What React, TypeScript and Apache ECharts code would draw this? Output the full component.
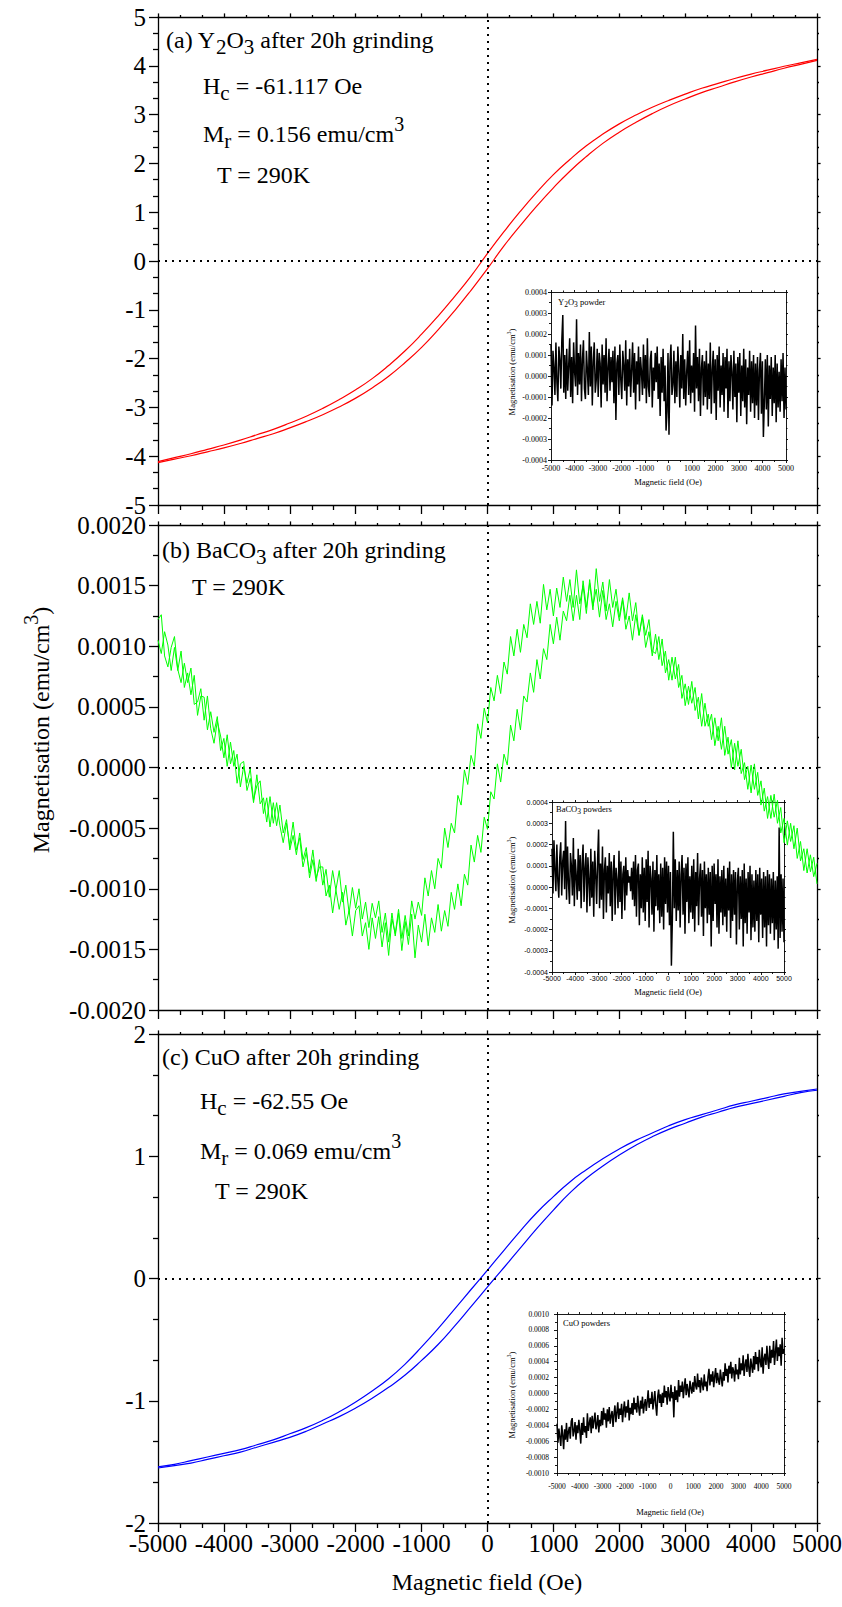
import React, { useEffect, useRef } from 'react';
import * as echarts from 'echarts';

// ---------- DATA ----------
// Hysteresis loops (emu/cm3), applied field every 250 Oe
const fieldHyst = [-5000, -4750, -4500, -4250, -4000, -3750, -3500, -3250, -3000, -2750, -2500, -2250, -2000, -1750, -1500, -1250, -1000, -750, -500, -250, 0, 250, 500, 750, 1000, 1250, 1500, 1750, 2000, 2250, 2500, 2750, 3000, 3250, 3500, 3750, 4000, 4250, 4500, 4750, 5000];

const y2o3Upper = [-4.11, -4.03, -3.95, -3.86, -3.77, -3.67, -3.56, -3.45, -3.32, -3.18, -3.02, -2.84, -2.64, -2.41, -2.14, -1.84, -1.50, -1.13, -0.73, -0.31, 0.156, 0.60, 1.02, 1.41, 1.77, 2.08, 2.36, 2.60, 2.81, 2.99, 3.15, 3.29, 3.42, 3.54, 3.64, 3.74, 3.83, 3.91, 3.99, 4.06, 4.13];
const y2o3Lower = [-4.13, -4.06, -3.99, -3.91, -3.83, -3.74, -3.64, -3.54, -3.42, -3.29, -3.15, -2.99, -2.81, -2.60, -2.36, -2.08, -1.77, -1.41, -1.02, -0.60, -0.156, 0.31, 0.73, 1.13, 1.50, 1.84, 2.14, 2.41, 2.64, 2.84, 3.02, 3.18, 3.32, 3.45, 3.56, 3.67, 3.77, 3.86, 3.95, 4.03, 4.11];

const cuoUpper = [-1.54, -1.52, -1.49, -1.46, -1.43, -1.40, -1.36, -1.32, -1.27, -1.22, -1.16, -1.09, -1.01, -0.92, -0.82, -0.70, -0.56, -0.41, -0.25, -0.09, 0.069, 0.23, 0.39, 0.54, 0.67, 0.79, 0.89, 0.98, 1.06, 1.13, 1.19, 1.25, 1.30, 1.34, 1.38, 1.42, 1.45, 1.48, 1.51, 1.53, 1.55];
const cuoLower = [-1.55, -1.53, -1.51, -1.48, -1.45, -1.42, -1.38, -1.34, -1.30, -1.25, -1.19, -1.13, -1.06, -0.98, -0.89, -0.79, -0.67, -0.54, -0.39, -0.23, -0.069, 0.09, 0.25, 0.41, 0.56, 0.70, 0.82, 0.92, 1.01, 1.09, 1.16, 1.22, 1.27, 1.32, 1.36, 1.40, 1.43, 1.46, 1.49, 1.52, 1.54];

// BaCO3 loop, two branches, field every 50 Oe from -5000 to 5000; values in 1e-5 emu/cm3
const bacoBranchA = [
  122, 126, 92, 83, 99, 108, 81, 70, 86, 70, 82, 52, 54, 65, 39, 59, 32, 20, 38, 26,
  8, 27, 3, 14, -13, 3, 5, -19, -9, -29, -6, -30, -25, -45, -24, -46, -29, -48, -62, -46,
  -65, -45, -68, -58, -82, -70, -87, -68, -91, -82,
  -82, -106, -97, -120, -101, -117, -103, -130, -118, -139, -118, -114, -139, -128, -150, -124, -141, -123, -148, -128,
  -155, -125, -137, -117, -141, -122, -139, -110, -125, -111, -122, -91, -106, -85, -100, -75, -83, -50, -66, -46,
  -54, -23, -31, -2, -14, 10, 1, 36, 24, 49, 37, 66, 55, 76, 61, 87, 77, 108, 92, 114,
  95, 118, 107, 135, 118, 137, 119, 151, 130, 147, 125, 148, 132, 157, 137, 155, 132, 163, 135, 150,
  127, 155, 133, 147, 124, 146, 122, 135, 116, 137, 121, 138, 114, 125, 105, 126, 109, 124, 99, 112,
  92,
  110, 89, 106, 78, 89, 72, 91, 66, 76, 51, 67, 53, 66, 40, 61, 34, 44, 23, 41, 22,
  41, 10, 25, 0, 20, 1, 15, -10, 1, -21, 3, -23, -11, -36, -24, -42, -22, -46, -33, -62,
  -44, -61, -48, -75, -61, -85, -67, -86, -74, -96,
];
const bacoBranchB = [
  105, 94, 112, 101, 80, 99, 80, 96, 66, 78, 60, 76, 43, 59, 58, 31, 46, 29, 42, 14,
  24, 1, 21, 1, 11, -16, 1, -13, -1, -27, -15, -11, -38, -25, -49, -29, -48, -31, -54, -43,
  -68, -56, -72, -54, -76, -66, -91, -76, -94, -76,
  -97, -84, -107, -85, -101, -85, -111, -97, -120, -99, -116, -100, -125, -111, -132, -112, -124, -110, -136, -120,
  -144, -120, -139, -120, -151, -127, -146, -121, -157, -130, -144, -121, -147, -124, -136, -113, -135, -118, -131, -103,
  -117, -96, -114, -88, -97, -64, -78, -56, -70, -41, -51, -20, -26, 3, -12, 11, 2, 35, 22, 48,
  31, 59, 54, 78, 62, 89, 73, 98, 89, 118, 102, 124, 105, 129, 121, 142, 121, 142, 122, 154,
  132, 152, 130, 164, 137, 153, 129, 155, 132, 147, 124, 140, 122, 144, 121, 136, 109, 126, 109, 122,
  96,
  94, 108, 84, 96, 72, 91, 73, 85, 57, 69, 52, 71, 47, 58, 34, 53, 34, 44, 18, 34,
  15, 34, 11, 23, -2, 22, -5, 4, -18, 2, -18, -4, -31, -17, -42, -23, -41, -27, -54, -42,
  -64, -46, -67, -50, -77, -67, -87, -72, -90, -79,
];

// Insets (raw powders), evenly spaced sweep -5000..5000 Oe; values in 1e-5 emu/cm3
const insetY2O3 = [
  15, -14, 12, 4, -9, 16, -3, -12, 14, 8, -6, 17, 29, -8, 10, -11,
  13, -7, 5, 18, -10, 9, -13, 16, 2, -5, 27, -9, 11, -4, 15, -12,
  8, 17, -6, -11, 12, 3, -9, 21, -5, 14, -14, 7, 16, -8, -2, 13,
  -10, 11, 6, -15, 15, -4, 10, -8, 18, -12, 4, 13, -7, 9, -3, 12,
  -13, 14, -21, 6, 10, -9, 15, -2, -11, 12, 5, -7, 17, -14, 8, -5,
  13, -10, 3, 16, -8, 11, -16, 7, -4, 14, -12, 9, 2, -9, 15, -6,
  10, -13, 18, -5, -10, 8, 12, -15, 4, -7, 11, -3, 14, -11, 6, -19,
  9, -8, 13, -12, 5, -26, -17, 11, -28, 6, 15, -9, -4, 12, -13, 7,
  -10, 14, 3, -15, 10, -6, 20, -11, 8, -14, 2, 12, -9, 17, -13, 5,
  -8, 11, -17, 24, -6, 9, -12, 13, -19, 4, 10, -14, 7, -10, 12, -16,
  6, -11, 16, -18, 3, 12, -13, 8, -21, 10, -7, 14, -15, 5, -9, 11,
  -17, 9, -6, 13, -20, 7, -12, 10, 2, -16, 12, -10, 6, -22, 9, -8,
  11, -19, 5, -12, 13, -15, 8, -23, 4, -9, 12, -17, 7, -13, 10, -20,
  6, -14, 9, -21, 3, 11, -18, 7, -29, -12, 8, -16, 10, -24, 5, -11,
  9, -19, 4, -13, 10, -22, 6, -15, 2, -17, 8, -12, 11, -20, 4, -16,
];
const insetBaCO3 = [
  18, -3, 22, 8, -2, 20, 3, -5, 14, 21, -4, 12, 17, -1, 31, -6,
  19, 2, -8, 16, 10, -4, 23, -9, 13, 5, -6, 18, -2, 15, -10, 11,
  20, -7, 9, 16, -12, 14, 3, -9, 18, -5, 12, -14, 17, 6, -8, 13,
  27, -10, 11, -6, 19, -15, 8, 14, -12, 10, -3, 16, -9, 12, -16, 7,
  15, -13, 9, 3, -10, 17, -7, 12, -15, 6, 10, -11, 14, -4, 8, 2,
  5, -2, 9, -6, 12, -9, 15, -14, 8, 11, -18, 6, -10, 14, -12, 9,
  -16, 13, -7, 17, -19, 10, 4, -13, 12, -21, 8, -9, 15, -11, 6, -17,
  11, -14, 9, -20, 14, -8, 12, -12, 10, -18, 7, -37, -15, 26, -10, 13,
  -16, 8, -11, 12, -19, 6, 15, -13, 9, -22, 11, -7, 14, -17, 5, -12,
  10, -15, 13, -21, 7, -9, 16, -18, 4, 11, -14, 8, -23, 12, -10, 6,
  -17, 9, -13, 7, -28, 10, -16, 11, -8, 6, -19, 13, -22, 5, -12, 8,
  -18, 10, -14, 4, -21, 9, -11, 12, -24, 6, -16, 8, -13, 7, -27, 3,
  9, -20, 5, -15, 8, -28, 11, -17, 4, -22, 7, -12, 10, -25, 6, -19,
  3, -21, 8, -16, 6, -26, 9, -13, 4, -24, 7, -19, 5, -28, 8, -18,
  6, -22, 4, -17, 7, -25, 3, -20, 5, -29, 28, -24, 6, -21, 4, -26,
];
const insetCuO = [
  -38, -62, -44, -55, -66, -40, -52, -70, -45, -58, -37, -61, -48, -42, -57, -35,
  -31, -54, -47, -36, -58, -40, -50, -33, -46, -63, -37, -52, -30, -49, -41, -56,
  -25, -47, -38, -30, -50, -28, -44, -34, -24, -45, -39, -27, -49, -33, -41, -22,
  -40, -18, -33, -25, -43, -20, -35, -17, -38, -28, -22, -42, -26, -15, -36, -24,
  -11, -32, -19, -27, -13, -36, -21, -10, -30, -16, -24, -8, -34, -18, -26, -12,
  -27, -5, -20, -12, -24, -3, -17, -28, -9, -19, -4, -25, -14, -7, -22, -10,
  4, -18, -6, -13, 2, -20, -9, 3, -15, -28, -4, 5, -12, -1, -17, 1,
  -12, 10, -5, 3, -14, 8, -3, -10, 11, -6, 2, -30, 9, -8, 4, -11,
  17, -4, 10, 2, 15, -6, 8, 19, -2, 12, 4, -5, 16, 7, 0, 14,
  2, 22, 10, 5, 25, 8, 17, 1, 20, 12, 4, 24, 9, 15, 3, 21,
  31, 10, 24, 15, 28, 8, 21, 32, 13, 26, 17, 11, 30, 19, 9, 27,
  16, 38, 22, 31, 14, 35, 25, 40, 19, 33, 28, 15, 37, 24, 30, 18,
  45, 24, 38, 29, 48, 22, 36, 43, 27, 50, 32, 21, 44, 35, 26, 47,
  30, 52, 37, 46, 28, 55, 40, 33, 58, 25, 44, 50, 36, 60, 42, 31,
  60, 38, 55, 45, 66, 36, 52, 68, 41, 58, 47, 62, 35, 70, 50, 56,
];

// ---------- HELPERS ----------
const SERIF = 'Liberation Serif';
const SANS = 'Liberation Sans';
const UNIT = 1e-5;

const sweep = (n: number) => Array.from({ length: n }, (_, i) => -5000 + (10000 * i) / (n - 1));
const pairs = (xs: number[], ys: number[], k = 1) => ys.map((v, i) => [xs[i], v * k]);

const grids = [
  { left: 158, top: 17, width: 659, height: 488 },
  { left: 158, top: 525, width: 659, height: 485 },
  { left: 158, top: 1034, width: 659, height: 489 },
  { left: 551, top: 292, width: 235, height: 168 },
  { left: 552, top: 802, width: 232, height: 170 },
  { left: 557, top: 1314, width: 227, height: 159 },
];

type AxCfg = {
  min: number; max: number; interval: number; minor: number;
  labels: boolean; fmt?: (v: number) => string; font?: string; size?: number; margin?: number;
  tick: number; minorTick: number; lw: number;
};

function axisPair(kind: 'x' | 'y', gi: number, c: AxCfg) {
  const common = {
    type: 'value', gridIndex: gi, min: c.min, max: c.max, interval: c.interval,
    splitLine: { show: false },
    axisLine: { show: true, onZero: false, lineStyle: { color: '#000', width: c.lw } },
  };
  const main = {
    ...common,
    position: kind === 'x' ? 'bottom' : 'left',
    axisTick: { show: true, inside: false, length: c.tick, lineStyle: { color: '#000', width: c.lw } },
    minorTick: { show: true, splitNumber: c.minor, length: c.minorTick, lineStyle: { color: '#000', width: c.lw } },
    axisLabel: {
      show: c.labels, color: '#000', fontFamily: c.font || SERIF, fontSize: c.size || 25,
      margin: c.margin ?? 8, formatter: c.fmt || ((v: number) => String(v)),
      showMinLabel: true, showMaxLabel: true, hideOverlap: false,
    },
  };
  const opp = {
    ...common,
    position: kind === 'x' ? 'top' : 'right',
    axisTick: { show: true, inside: false, length: Math.max(2, c.tick * 0.4), lineStyle: { color: '#000', width: c.lw } },
    minorTick: { show: true, splitNumber: c.minor, length: Math.max(1.5, c.minorTick * 0.4), lineStyle: { color: '#000', width: c.lw } },
    axisLabel: { show: false },
  };
  return [main, opp];
}

const f4 = (v: number) => v.toFixed(4);

const richBig = {
  n: { fontFamily: SERIF, fontSize: 24, fill: '#000' },
  sub: { fontFamily: SERIF, fontSize: 21, fill: '#000', padding: [14, 0, 0, 0] },
  sup: { fontFamily: SERIF, fontSize: 20, fill: '#000', padding: [0, 0, 20, 0] },
};
const richSmall = {
  s: { fontFamily: SERIF, fontSize: 8.5, fill: '#000' },
  sb: { fontFamily: SERIF, fontSize: 7.5, fill: '#000', padding: [5, 0, 0, 0] },
  sp: { fontFamily: SERIF, fontSize: 6, fill: '#000', padding: [0, 0, 7, 0] },
};

function txt(x: number, y: number, text: string, big: boolean, align = 'left', rot = 0) {
  return {
    type: 'text', x, y, rotation: rot, silent: true, z: 100,
    style: {
      text, fill: '#000', fontFamily: SERIF, fontSize: big ? 24 : 8.5, lineHeight: big ? 32 : 12,
      align, textAlign: align, verticalAlign: 'middle', textVerticalAlign: 'middle',
      rich: big ? richBig : richSmall,
    },
  };
}

function dotted() {
  return {
    silent: true, symbol: ['none', 'none'], label: { show: false }, animation: false,
    lineStyle: { color: '#000', type: [2, 5], width: 2 },
    emphasis: { disabled: true },
    data: [{ yAxis: 0 }, { xAxis: 0 }],
  };
}

function buildOption() {
  const mainTick = 9, mainMinor = 5, lw = 1.3;
  const xAxes: any[] = [];
  const yAxes: any[] = [];
  const yCfgs: AxCfg[] = [
    { min: -5, max: 5, interval: 1, minor: 3, labels: true, tick: mainTick, minorTick: mainMinor, lw, margin: 12 },
    { min: -0.002, max: 0.002, interval: 0.0005, minor: 2, labels: true, fmt: f4, tick: mainTick, minorTick: mainMinor, lw, margin: 12 },
    { min: -2, max: 2, interval: 1, minor: 3, labels: true, tick: mainTick, minorTick: mainMinor, lw, margin: 12 },
  ];
  for (let g = 0; g < 3; g++) {
    xAxes.push(...axisPair('x', g, { min: -5000, max: 5000, interval: 1000, minor: 3, labels: g === 2, tick: mainTick, minorTick: mainMinor, lw, margin: 8 }));
    yAxes.push(...axisPair('y', g, yCfgs[g]));
  }
  const insetY: AxCfg[] = [
    { min: -0.0004, max: 0.0004, interval: 0.0001, minor: 2, labels: true, fmt: f4, size: 8, margin: 4, tick: 3, minorTick: 2, lw: 0.9 },
    { min: -0.0004, max: 0.0004, interval: 0.0001, minor: 2, labels: true, fmt: f4, size: 7, font: SANS, margin: 4, tick: 3, minorTick: 2, lw: 0.9 },
    { min: -0.001, max: 0.001, interval: 0.0002, minor: 2, labels: true, fmt: f4, size: 7.5, margin: 8, tick: 3, minorTick: 2, lw: 0.9 },
  ];
  const insetX: AxCfg[] = [
    { min: -5000, max: 5000, interval: 1000, minor: 2, labels: true, size: 8, margin: 4, tick: 3, minorTick: 2, lw: 0.9 },
    { min: -5000, max: 5000, interval: 1000, minor: 2, labels: true, size: 7, font: SANS, margin: 3, tick: 3, minorTick: 2, lw: 0.9 },
    { min: -5000, max: 5000, interval: 1000, minor: 2, labels: true, size: 7.5, margin: 9, tick: 3, minorTick: 2, lw: 0.9 },
  ];
  for (let k = 0; k < 3; k++) {
    xAxes.push(...axisPair('x', 3 + k, insetX[k]));
    yAxes.push(...axisPair('y', 3 + k, insetY[k]));
  }

  const line = (name: string, ax: number, data: any[], color: string, width: number, smooth: boolean, z: number, extra: any = {}) => ({
    name, type: 'line', xAxisIndex: ax, yAxisIndex: ax, data, showSymbol: false, symbol: 'none',
    smooth, z, silent: true, lineStyle: { color, width }, itemStyle: { color }, emphasis: { disabled: true }, ...extra,
  });

  const bacoField = sweep(bacoBranchA.length);
  const series = [
    line('Y2O3 upper', 0, pairs(fieldHyst, y2o3Upper), '#ff0000', 1.2, true, 3, { markLine: dotted() }),
    line('Y2O3 lower', 0, pairs(fieldHyst, y2o3Lower), '#ff0000', 1.2, true, 3),
    line('BaCO3 A', 2, pairs(bacoField, bacoBranchA, UNIT), '#00ff00', 1, false, 10, { markLine: dotted() }),
    line('BaCO3 B', 2, pairs(bacoField, bacoBranchB, UNIT), '#00ff00', 1, false, 10),
    line('CuO upper', 4, pairs(fieldHyst, cuoUpper), '#0000ff', 1.2, true, 3, { markLine: dotted() }),
    line('CuO lower', 4, pairs(fieldHyst, cuoLower), '#0000ff', 1.2, true, 3),
    line('Y2O3 powder', 6, pairs(sweep(insetY2O3.length), insetY2O3, UNIT), '#000', 1.5, false, 2),
    line('BaCO3 powders', 8, pairs(sweep(insetBaCO3.length), insetBaCO3, UNIT), '#000', 1.5, false, 2),
    line('CuO powders', 10, pairs(sweep(insetCuO.length), insetCuO, UNIT), '#000', 1.5, false, 2),
  ];

  const graphics = [
    txt(166, 40, '{n|(a) Y}{sub|2}{n|O}{sub|3}{n| after 20h grinding}', true),
    txt(203, 86, '{n|H}{sub|c}{n| = -61.117 Oe}', true),
    txt(203, 134, '{n|M}{sub|r}{n| = 0.156 emu/cm}{sup|3}', true),
    txt(217, 175, '{n|T = 290K}', true),
    txt(162, 550, '{n|(b) BaCO}{sub|3}{n| after 20h grinding}', true),
    txt(192, 587, '{n|T = 290K}', true),
    txt(162, 1057, '{n|(c) CuO after 20h grinding}', true),
    txt(200, 1101, '{n|H}{sub|c}{n| = -62.55 Oe}', true),
    txt(200, 1151, '{n|M}{sub|r}{n| = 0.069 emu/cm}{sup|3}', true),
    txt(215, 1191, '{n|T = 290K}', true),
    txt(487, 1582, '{n|Magnetic field (Oe)}', true, 'center'),
    txt(41, 730, '{n|Magnetisation (emu/cm}{sup|3}{n|)}', true, 'center', Math.PI / 2),
    txt(558, 302, '{s|Y}{sb|2}{s|O}{sb|3}{s| powder}', false),
    txt(668, 482, '{s|Magnetic field (Oe)}', false, 'center'),
    txt(512, 372, '{s|Magnetisation (emu/cm}{sp|3}{s|)}', false, 'center', Math.PI / 2),
    txt(556, 809, '{s|BaCO}{sb|3}{s| powders}', false),
    txt(668, 992, '{s|Magnetic field (Oe)}', false, 'center'),
    txt(512, 880, '{s|Magnetisation (emu/cm}{sp|3}{s|)}', false, 'center', Math.PI / 2),
    txt(563, 1323, '{s|CuO powders}', false),
    txt(670, 1512, '{s|Magnetic field (Oe)}', false, 'center'),
    txt(512, 1395, '{s|Magnetisation (emu/cm}{sp|3}{s|)}', false, 'center', Math.PI / 2),
  ];

  return {
    animation: false,
    backgroundColor: '#ffffff',
    textStyle: { fontFamily: SERIF },
    grid: grids.map((g) => ({ ...g, containLabel: false, outerBoundsMode: 'none', show: false })),
    xAxis: xAxes,
    yAxis: yAxes,
    series,
    graphic: { elements: graphics },
  };
}

export default function App() {
  const ref = useRef<HTMLDivElement>(null);
  useEffect(() => {
    if (!ref.current) return;
    const chart = echarts.init(ref.current, null, { renderer: 'svg', width: 842, height: 1607 });
    chart.setOption(buildOption() as any);
    return () => chart.dispose();
  }, []);
  return (
    <div
      ref={ref}
      style={{ position: 'absolute', left: 0, top: 0, width: 842, height: 1607, background: '#fff', fontFamily: 'Liberation Serif' }}
    />
  );
}
